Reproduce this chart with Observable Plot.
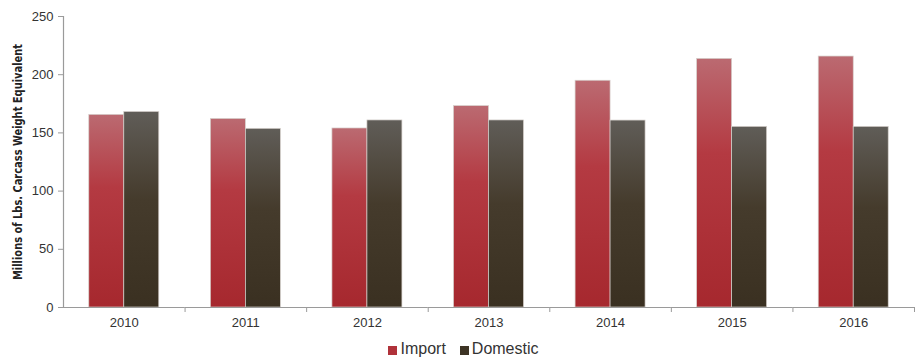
<!DOCTYPE html>
<html><head><meta charset="utf-8">
<script src="https://cdn.jsdelivr.net/npm/d3@7"></script>
<script src="https://cdn.jsdelivr.net/npm/@observablehq/plot@0.6"></script>
<style>
body{margin:0;background:#fff;font-family:"Liberation Sans",Arial,Helvetica,sans-serif;}
#chart svg{display:block;}
#chart [aria-label="y-axis label"] text{font-weight:bold;font-family:"Liberation Sans Narrow","Arial Narrow","DejaVu Sans",sans-serif;font-stretch:condensed;font-size:12.5px;fill:#222;}
#legend{display:flex;justify-content:center;align-items:center;height:20px;font-size:16px;color:#333;padding-left:12px;padding-top:1px;}
#legend .item{display:flex;align-items:center;margin:0 7px;}
#legend .sw{width:9px;height:9px;margin-right:3px;margin-top:3px;}
</style></head><body>
<div id="chart"></div>
<div id="legend"></div>
<script>
const years = ["2010", "2011", "2012", "2013", "2014", "2015", "2016"];
const series = ["Import", "Domestic"];
const importValues = [165.5, 162, 153.8, 173, 194.8, 213.6, 215.6];
const domesticValues = [168, 153.5, 160.7, 160.7, 160.6, 155.2, 155.2];
const yTicks = [0, 50, 100, 150, 200, 250];
const yLabel = "Millions of Lbs. Carcass Weight Equivalent";
const swatchColors = ["#b0323a", "#3d3425"];

const rows = [];
years.forEach((year, i) => {
  rows.push({year, series: "Import", value: importValues[i]});
  rows.push({year, series: "Domestic", value: domesticValues[i]});
});

const W = 915, H = 338, mL = 63, mR = 1, mT = 16, mB = 31;
const step = (W - mL - mR) / years.length;

const svg = Plot.plot({
  width: W, height: H,
  marginLeft: mL, marginRight: mR, marginTop: mT, marginBottom: mB,
  style: {fontSize: "13px", fontFamily: "'Liberation Sans', Arial, Helvetica, sans-serif", color: "#333", background: "#fff"},
  fx: {domain: years, padding: 0, round: false},
  x: {domain: series, paddingInner: 0, paddingOuter: 0.737, round: false, axis: null},
  y: {domain: [0, 250]},
  color: {domain: series, range: ["url(#gradImport)", "url(#gradDomestic)"]},
  marks: [
    Plot.barY(rows, {fx: "year", x: "series", y: "value", fill: "series", stroke: "#d6d0cc", strokeWidth: 0.7}),
    Plot.ruleY([0], {stroke: "#9a9a9a", strokeWidth: 1.2}),
    Plot.frame({anchor: "left", facetAnchor: "left", stroke: "#9a9a9a", strokeWidth: 1.2}),
    Plot.axisY({ticks: yTicks, tickSize: 5, tickPadding: 5, stroke: "#9a9a9a", fill: "#333",
      label: yLabel, labelAnchor: "center", labelOffset: 50, labelArrow: "none"}),
    Plot.axisFx({anchor: "bottom", tickSize: 0, tickPadding: 10, label: null, fill: "#333"}),
    Plot.axisFx({anchor: "bottom", tickSize: 5, tickFormat: () => "", label: null, dx: step / 2, stroke: "#9a9a9a"})
  ]
});

const defs = d3.select(svg).insert("defs", ":first-child");
const gi = defs.append("linearGradient").attr("id", "gradImport").attr("x1", 0).attr("y1", 0).attr("x2", 0).attr("y2", 1);
[[0, "#bb6a71"], [0.38, "#b43a42"], [1, "#a6282e"]].forEach(([o, c]) => gi.append("stop").attr("offset", o).attr("stop-color", c));
const gd = defs.append("linearGradient").attr("id", "gradDomestic").attr("x1", 0).attr("y1", 0).attr("x2", 0).attr("y2", 1);
[[0, "#605d58"], [0.45, "#453b2c"], [1, "#3a3021"]].forEach(([o, c]) => gd.append("stop").attr("offset", o).attr("stop-color", c));

d3.select(svg).selectAll('[aria-label="y-axis label"] text')
  .attr("textLength", 236).attr("lengthAdjust", "spacingAndGlyphs");

document.getElementById("chart").appendChild(svg);

const legend = d3.select("#legend");
series.forEach((s, i) => {
  const item = legend.append("div").attr("class", "item");
  item.append("div").attr("class", "sw").style("background", swatchColors[i]);
  item.append("span").text(s);
});
</script>
</body></html>
